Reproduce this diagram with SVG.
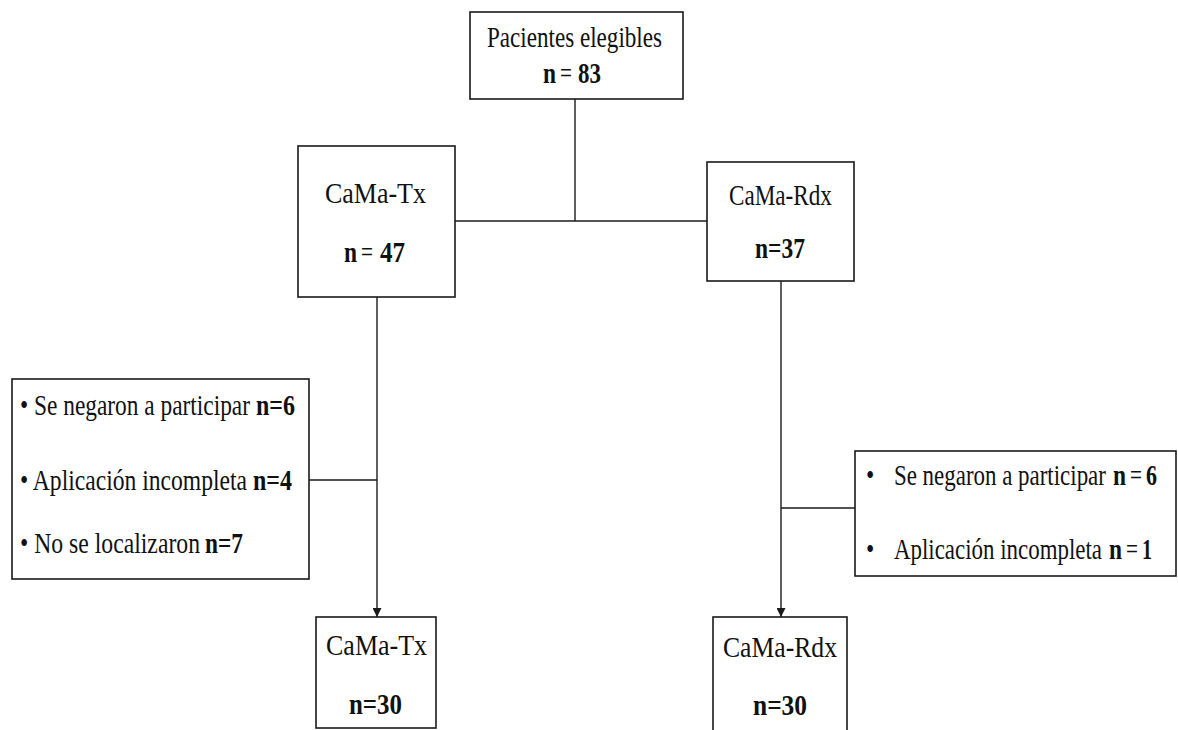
<svg xmlns="http://www.w3.org/2000/svg" width="1178" height="730" viewBox="0 0 1178 730">
<style>
.box{fill:#fff;stroke:#1a1a1a;stroke-width:1.6}
.ln{fill:none;stroke:#1a1a1a;stroke-width:1.4}
text{font-family:"Liberation Serif","Times New Roman",serif;font-size:29px;fill:#111}
.b{font-weight:bold}
.big{font-size:30px}
</style>
<defs>
<marker id="arr" viewBox="0 0 10 10" refX="10" refY="5" markerWidth="9" markerHeight="9" markerUnits="userSpaceOnUse" orient="auto">
<path d="M0,0 L10,5 L0,10 Z" fill="#1a1a1a"/>
</marker>
</defs>
<rect width="1178" height="730" fill="#fff"/>
<g id="connectors">
<line class="ln" x1="575" y1="99" x2="575" y2="221"/>
<line class="ln" x1="455" y1="221" x2="707" y2="221"/>
<line class="ln" x1="377" y1="297" x2="377" y2="617" marker-end="url(#arr)"/>
<line class="ln" x1="309" y1="480" x2="377" y2="480"/>
<line class="ln" x1="781" y1="281" x2="781" y2="617" marker-end="url(#arr)"/>
<line class="ln" x1="781" y1="508" x2="855" y2="508"/>
</g>
<g id="eligibles">
<rect class="box" x="470" y="12" width="213" height="87"/>
<g transform="scale(0.82,1)">
<text x="593.9" y="47" textLength="213.4" lengthAdjust="spacingAndGlyphs">Pacientes elegibles</text>
<text x="662.2" y="83" class="b" textLength="15.9" lengthAdjust="spacingAndGlyphs">n</text>
<text x="682.9" y="83" textLength="14.6" lengthAdjust="spacingAndGlyphs">=</text>
<text x="704.9" y="83" class="b" textLength="28" lengthAdjust="spacingAndGlyphs">83</text>
</g>
</g>
<g id="camatx">
<rect class="box" x="298" y="146" width="157" height="151"/>
<g transform="scale(0.82,1)">
<text x="396.3" y="203" class="big" textLength="123.2" lengthAdjust="spacingAndGlyphs">CaMa-Tx</text>
<text x="419.5" y="262" class="big b" textLength="15.9" lengthAdjust="spacingAndGlyphs">n</text>
<text x="440.2" y="262" class="big" textLength="14.6" lengthAdjust="spacingAndGlyphs">=</text>
<text x="463.4" y="262" class="big b" textLength="30.5" lengthAdjust="spacingAndGlyphs">47</text>
</g>
</g>
<g id="camardx">
<rect class="box" x="707" y="162" width="147" height="119"/>
<g transform="scale(0.82,1)">
<text x="889" y="205" class="big" textLength="125.6" lengthAdjust="spacingAndGlyphs">CaMa-Rdx</text>
<text x="920.7" y="258" class="big b" textLength="61" lengthAdjust="spacingAndGlyphs">n=37</text>
</g>
</g>
<g id="excl-tx">
<rect class="box" x="12" y="379" width="297" height="200"/>
<g transform="scale(0.82,1)">
<text x="24.4" y="415" textLength="280.5" lengthAdjust="spacingAndGlyphs">• Se negaron a participar</text>
<text x="312.2" y="415" class="b" textLength="47.6" lengthAdjust="spacingAndGlyphs">n=6</text>
<text x="24.4" y="490" textLength="276.8" lengthAdjust="spacingAndGlyphs">• Aplicación incompleta</text>
<text x="308.5" y="490" class="b" textLength="47.6" lengthAdjust="spacingAndGlyphs">n=4</text>
<text x="24.4" y="553" textLength="219.5" lengthAdjust="spacingAndGlyphs">• No se localizaron</text>
<text x="250" y="553" class="b" textLength="46.3" lengthAdjust="spacingAndGlyphs">n=7</text>
</g>
</g>
<g id="excl-rdx">
<rect class="box" x="855" y="451" width="321" height="125"/>
<g transform="scale(0.82,1)">
<text x="1056.1" y="485">•</text>
<text x="1090.2" y="485" textLength="258.5" lengthAdjust="spacingAndGlyphs">Se negaron a participar</text>
<text x="1357.3" y="485" class="b" textLength="15.9" lengthAdjust="spacingAndGlyphs">n</text>
<text x="1378" y="485" textLength="14.6" lengthAdjust="spacingAndGlyphs">=</text>
<text x="1397.6" y="485" class="b" textLength="13.4" lengthAdjust="spacingAndGlyphs">6</text>
<text x="1056.1" y="559">•</text>
<text x="1090.2" y="559" textLength="253.7" lengthAdjust="spacingAndGlyphs">Aplicación incompleta</text>
<text x="1352.4" y="559" class="b" textLength="15.9" lengthAdjust="spacingAndGlyphs">n</text>
<text x="1373.2" y="559" textLength="14.6" lengthAdjust="spacingAndGlyphs">=</text>
<text x="1392.7" y="559" class="b" textLength="12.2" lengthAdjust="spacingAndGlyphs">1</text>
</g>
</g>
<g id="final-tx">
<rect class="box" x="316" y="617" width="120" height="111"/>
<g transform="scale(0.82,1)">
<text x="397.6" y="655" class="big" textLength="123.2" lengthAdjust="spacingAndGlyphs">CaMa-Tx</text>
<text x="425.6" y="714" class="big b" textLength="64.6" lengthAdjust="spacingAndGlyphs">n=30</text>
</g>
</g>
<g id="final-rdx">
<rect class="box" x="713" y="617" width="134" height="120"/>
<g transform="scale(0.82,1)">
<text x="881.7" y="657" class="big" textLength="139" lengthAdjust="spacingAndGlyphs">CaMa-Rdx</text>
<text x="918.3" y="715" class="big b" textLength="65.9" lengthAdjust="spacingAndGlyphs">n=30</text>
</g>
</g>
</svg>
